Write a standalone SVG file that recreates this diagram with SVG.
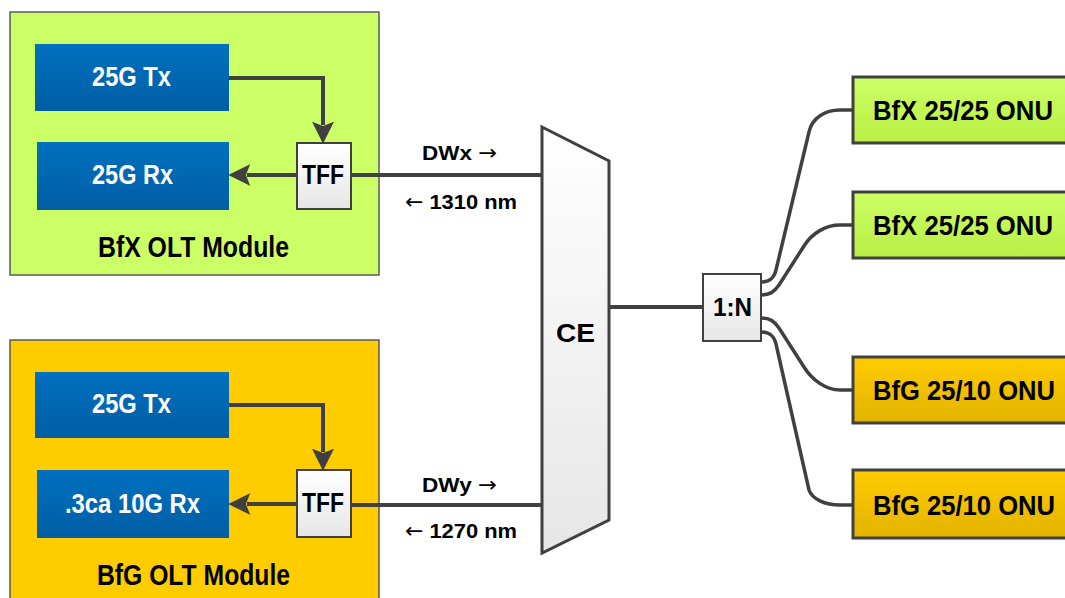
<svg xmlns="http://www.w3.org/2000/svg" width="1065" height="598" viewBox="0 0 1065 598">
<defs>
<linearGradient id="gBlue" x1="0" y1="0" x2="0" y2="1"><stop offset="0" stop-color="#0070c0"/><stop offset="1" stop-color="#005ea4"/></linearGradient>
<linearGradient id="gGray" x1="0" y1="0" x2="0" y2="1"><stop offset="0" stop-color="#ffffff"/><stop offset="1" stop-color="#e6e6e6"/></linearGradient>
<linearGradient id="gGreen" x1="0" y1="0" x2="0" y2="1"><stop offset="0" stop-color="#ccff66"/><stop offset="1" stop-color="#b8ee44"/></linearGradient>
<linearGradient id="gOrange" x1="0" y1="0" x2="0" y2="1"><stop offset="0" stop-color="#ffcc00"/><stop offset="1" stop-color="#e2b300"/></linearGradient>
<marker id="arr" markerUnits="userSpaceOnUse" markerWidth="22" markerHeight="22" viewBox="0 0 20 20" refX="3" refY="10" orient="auto">
<path d="M0,0 L20,10 L0,20 L4,10 z" fill="#404040"/>
</marker>
</defs>
<style>
.mod{stroke:#5a5a5a;stroke-width:1.5}
.blue{fill:url(#gBlue)}
.tff{fill:url(#gGray);stroke:#404040;stroke-width:2}
.onu{stroke:#404040;stroke-width:3}
.wire{fill:none;stroke:#404040;stroke-width:4}
.fib{fill:none;stroke:#404040;stroke-width:3.5}
text{font-family:"Liberation Sans",Arial,sans-serif;font-weight:bold;text-anchor:middle}
.wt{fill:#ffffff;font-size:27px}
.bk{fill:#000000}
.ar{font-family:"DejaVu Sans",sans-serif;font-weight:normal}
</style>

<g id="bfx-olt">
<rect class="mod" x="10" y="12" width="369" height="263" fill="#ccff66"/>
<text class="bk" x="193.5" y="257" font-size="29" textLength="191" lengthAdjust="spacingAndGlyphs">BfX OLT Module</text>
</g>
<g id="bfx-tx">
<rect class="blue" x="35" y="44" width="194" height="67"/>
<text class="wt" x="131.5" y="86" textLength="79" lengthAdjust="spacingAndGlyphs">25G Tx</text>
</g>
<g id="bfx-rx">
<rect class="blue" x="37" y="142" width="192" height="68"/>
<text class="wt" x="132.5" y="184" textLength="81" lengthAdjust="spacingAndGlyphs">25G Rx</text>
</g>
<g id="bfx-tff">
<rect class="tff" x="297" y="143" width="54" height="66"/>
<text class="bk" x="323" y="184" font-size="27" textLength="42" lengthAdjust="spacingAndGlyphs">TFF</text>
</g>

<g id="bfg-olt">
<rect class="mod" x="10" y="340" width="369" height="270" fill="#ffcc00"/>
<text class="bk" x="193.5" y="585" font-size="29" textLength="193" lengthAdjust="spacingAndGlyphs">BfG OLT Module</text>
</g>
<g id="bfg-tx">
<rect class="blue" x="35" y="372" width="194" height="66"/>
<text class="wt" x="131.5" y="413" textLength="79" lengthAdjust="spacingAndGlyphs">25G Tx</text>
</g>
<g id="bfg-rx">
<rect class="blue" x="37" y="470" width="192" height="68"/>
<text class="wt" x="132.5" y="513" textLength="135" lengthAdjust="spacingAndGlyphs">.3ca 10G Rx</text>
</g>
<g id="bfg-tff">
<rect class="tff" x="297" y="470" width="54" height="67"/>
<text class="bk" x="323" y="512" font-size="27" textLength="42" lengthAdjust="spacingAndGlyphs">TFF</text>
</g>

<g id="ce">
<path d="M542,127 L609,161 L609,520 L542,553 Z" fill="url(#gGray)" stroke="#404040" stroke-width="3" stroke-linejoin="miter"/>
<text class="bk" x="575.5" y="342" font-size="26" textLength="39" lengthAdjust="spacingAndGlyphs">CE</text>
</g>

<g id="splitter">
<rect class="tff" x="703" y="274" width="58" height="67" stroke-width="3"/>
<text class="bk" x="732.5" y="316" font-size="26" textLength="39" lengthAdjust="spacingAndGlyphs">1:N</text>
</g>

<g id="onu1">
<rect class="onu" x="853" y="77" width="215" height="66" fill="url(#gGreen)"/>
<text class="bk" x="963" y="120" font-size="28" textLength="180" lengthAdjust="spacingAndGlyphs">BfX 25/25 ONU</text>
</g>
<g id="onu2">
<rect class="onu" x="853" y="192" width="215" height="66" fill="url(#gGreen)"/>
<text class="bk" x="963" y="235" font-size="28" textLength="180" lengthAdjust="spacingAndGlyphs">BfX 25/25 ONU</text>
</g>
<g id="onu3">
<rect class="onu" x="853" y="357" width="215" height="66" fill="url(#gOrange)"/>
<text class="bk" x="964" y="400" font-size="28" textLength="182" lengthAdjust="spacingAndGlyphs">BfG 25/10 ONU</text>
</g>
<g id="onu4">
<rect class="onu" x="853" y="470" width="215" height="68" fill="url(#gOrange)"/>
<text class="bk" x="964" y="515" font-size="28" textLength="182" lengthAdjust="spacingAndGlyphs">BfG 25/10 ONU</text>
</g>

<g id="connectors">
<path class="wire" d="M229,78 H323 V125" marker-end="url(#arr)"/>
<path class="wire" d="M297,175 H247" marker-end="url(#arr)"/>
<path class="wire" d="M351,175 H542"/>
<path class="wire" d="M229,405 H323 V452" marker-end="url(#arr)"/>
<path class="wire" d="M297,504 H247" marker-end="url(#arr)"/>
<path class="wire" d="M351,505 H542"/>
<path class="wire" d="M609,307 H703"/>
<path class="fib" d="M761,282 C770,282 774,278 776,270 L809,132 C812,118 825,110 840,110 H853"/>
<path class="fib" d="M761,295 C770,295 774,292 779,285 L804,246 C812,233 826,225 840,225 H853"/>
<path class="fib" d="M761,318 C770,318 774,321 779,328 L804,367 C812,380 826,390 840,390 H853"/>
<path class="fib" d="M761,332 C770,332 774,336 776,344 L809,490 C812,499 825,505 840,505 H853"/>
<text class="bk" x="459.5" y="160" font-size="21" textLength="75" lengthAdjust="spacingAndGlyphs">DWx <tspan class="ar">→</tspan></text>
<text class="bk" x="461" y="209" font-size="21" textLength="112" lengthAdjust="spacingAndGlyphs"><tspan class="ar">←</tspan> 1310 nm</text>
<text class="bk" x="459.5" y="492" font-size="21" textLength="75" lengthAdjust="spacingAndGlyphs">DWy <tspan class="ar">→</tspan></text>
<text class="bk" x="461" y="538" font-size="21" textLength="112" lengthAdjust="spacingAndGlyphs"><tspan class="ar">←</tspan> 1270 nm</text>
</g>
</svg>
